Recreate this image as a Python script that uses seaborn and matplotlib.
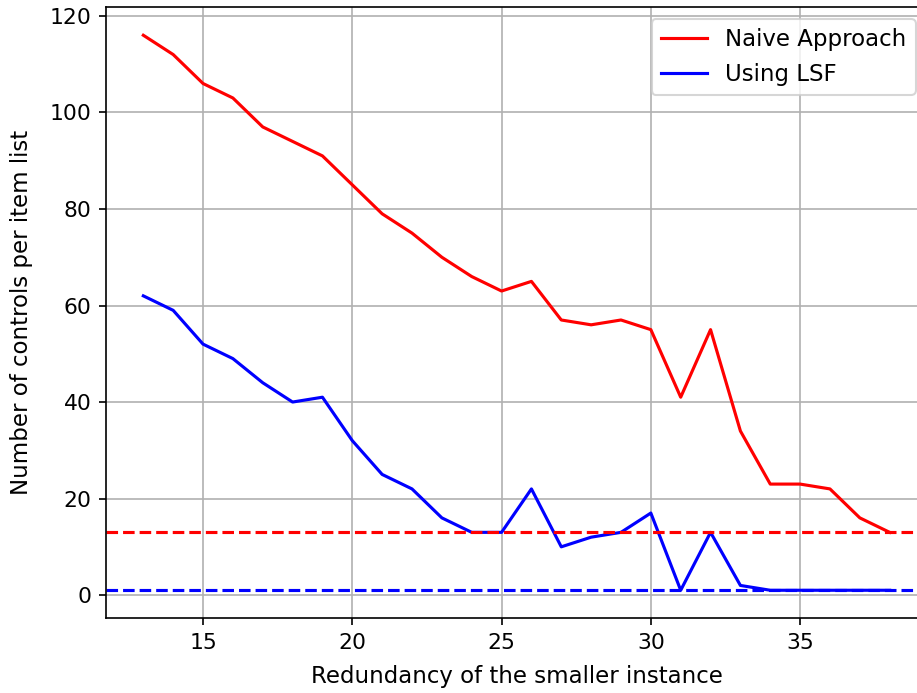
import matplotlib
matplotlib.use("Agg")
import matplotlib.pyplot as plt
import seaborn as sns
import pandas as pd

redundancy = list(range(13, 39))
naive = [116, 112, 106, 103, 97, 94, 91, 85, 79, 75, 70, 66, 63, 65, 57, 56, 57, 55,
         41, 55, 34, 23, 23, 22, 16, 13]
lsf = [62, 59, 52, 49, 44, 40, 41, 32, 25, 22, 16, 13, 13, 22, 10, 12, 13, 17,
       1, 13, 2, 1, 1, 1, 1, 1]
naive_ref = 13
lsf_ref = 1

df = pd.DataFrame({"x": redundancy, "Naive Approach": naive, "Using LSF": lsf})

DPI = 150
fig = plt.figure(figsize=(917 / DPI, 693 / DPI), dpi=DPI)
ax = fig.add_axes([0.1156, 0.1082, 0.8953, 0.881])

sns.lineplot(data=df, x="x", y="Naive Approach", color="red", label="Naive Approach", ax=ax, linewidth=1.5)
sns.lineplot(data=df, x="x", y="Using LSF", color="blue", label="Using LSF", ax=ax, linewidth=1.5)
ax.axhline(naive_ref, color="red", linestyle="--", linewidth=1.5)
ax.axhline(lsf_ref, color="blue", linestyle="--", linewidth=1.5)

ax.set_xlim(11.75, 39.25)
ax.set_ylim(-4.75, 121.75)
ax.set_xlabel("Redundancy of the smaller instance", fontsize=11, labelpad=6)
ax.set_ylabel("Number of controls per item list", fontsize=11, labelpad=8)
ax.tick_params(labelsize=10.5)
ax.grid(True, color="#b0b0b0", linewidth=0.8)
ax.set_axisbelow(True)
ax.legend(loc="upper right", fontsize=11)

fig.savefig("out.png", dpi=DPI)
